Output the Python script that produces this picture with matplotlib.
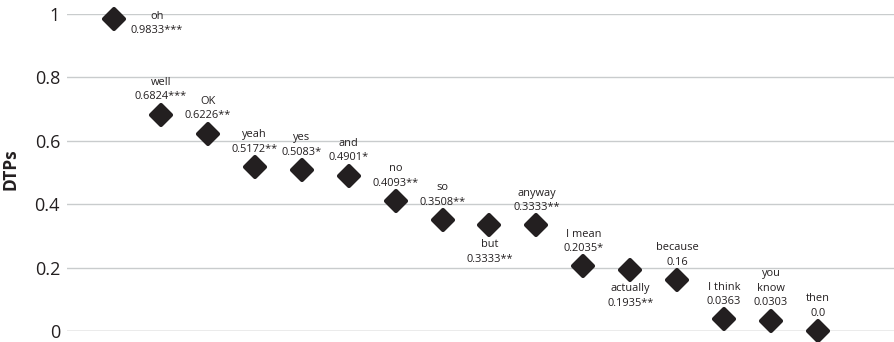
import numpy as np
from matplotlib import pyplot as plt
from matplotlib.markers import MarkerStyle

## DATA

words = ['oh', 'well', 'OK', 'yeah', 'yes', 'and', 'no', 'so', 'but', 'anyway',
         'I mean', 'actually', 'because', 'I think', 'you\nknow', 'then']
dtps = [0.9833, 0.6824, 0.6226, 0.5172, 0.5083, 0.4901, 0.4093, 0.3508, 0.3333, 0.3333,
        0.2035, 0.1935, 0.16, 0.0363, 0.0303, 0.0]
value_labels = ['0.9833***', '0.6824***', '0.6226**', '0.5172**', '0.5083*', '0.4901*',
                '0.4093**', '0.3508**', '0.3333**', '0.3333**', '0.2035*', '0.1935**',
                '0.16', '0.0363', '0.0303', '0.0']
yticks = [0, 0.2, 0.4, 0.6, 0.8, 1]
ytick_labels = ['0', '0.2', '0.4', '0.6', '0.8', '1']

## STYLE / LAYOUT

plt.rcParams['font.family'] = ['Open Sans', 'DejaVu Sans']
ink = '#231f20'

# label placement: 'above' (default), 'below', or 'right'
placement = {'oh': 'right', 'but': 'below', 'actually': 'below'}

fig = plt.figure(figsize=(8.95, 3.42), dpi=100)
ax = fig.add_axes([0.0749, 0.0322, 0.9251, 0.9269])

x = np.arange(len(words))

for t in yticks:
    col = '#9a9a9a' if t == 0 else '#c9cccd'
    ax.axhline(t, color=col, lw=1.0, zorder=1)

marker = MarkerStyle('D', joinstyle='round')
ax.plot(x, dtps, linestyle='none', marker=marker, markersize=10,
        markerfacecolor=ink, markeredgecolor=ink, markeredgewidth=3,
        clip_on=False, zorder=3)

for i, w in enumerate(words):
    txt = w + '\n' + value_labels[i]
    where = placement.get(w, 'above')
    nlines = txt.count('\n') + 1
    if where == 'right':
        off = (31, -3)
    elif where == 'below':
        off = (0, -19)
    else:
        off = (0, 18 + (nlines - 2) * 6)
    ax.annotate(txt, (x[i], dtps[i]), xytext=off, textcoords='offset points',
                ha='center', va='center', fontsize=7.9, color=ink,
                linespacing=1.45, zorder=4)

ax.set_xlim(-1, 16.64)
ax.set_ylim(0, 1)
ax.set_xticks([])
ax.set_yticks(yticks)
ax.set_yticklabels(ytick_labels, fontsize=13, color=ink)
ax.tick_params(axis='y', length=0, pad=5)
for s in ax.spines.values():
    s.set_visible(False)
ax.set_ylabel('DTPs', fontsize=12.5, fontweight='bold', color=ink)
ax.yaxis.set_label_coords(-0.057, 0.51)

fig.savefig('out.png', dpi=100)
